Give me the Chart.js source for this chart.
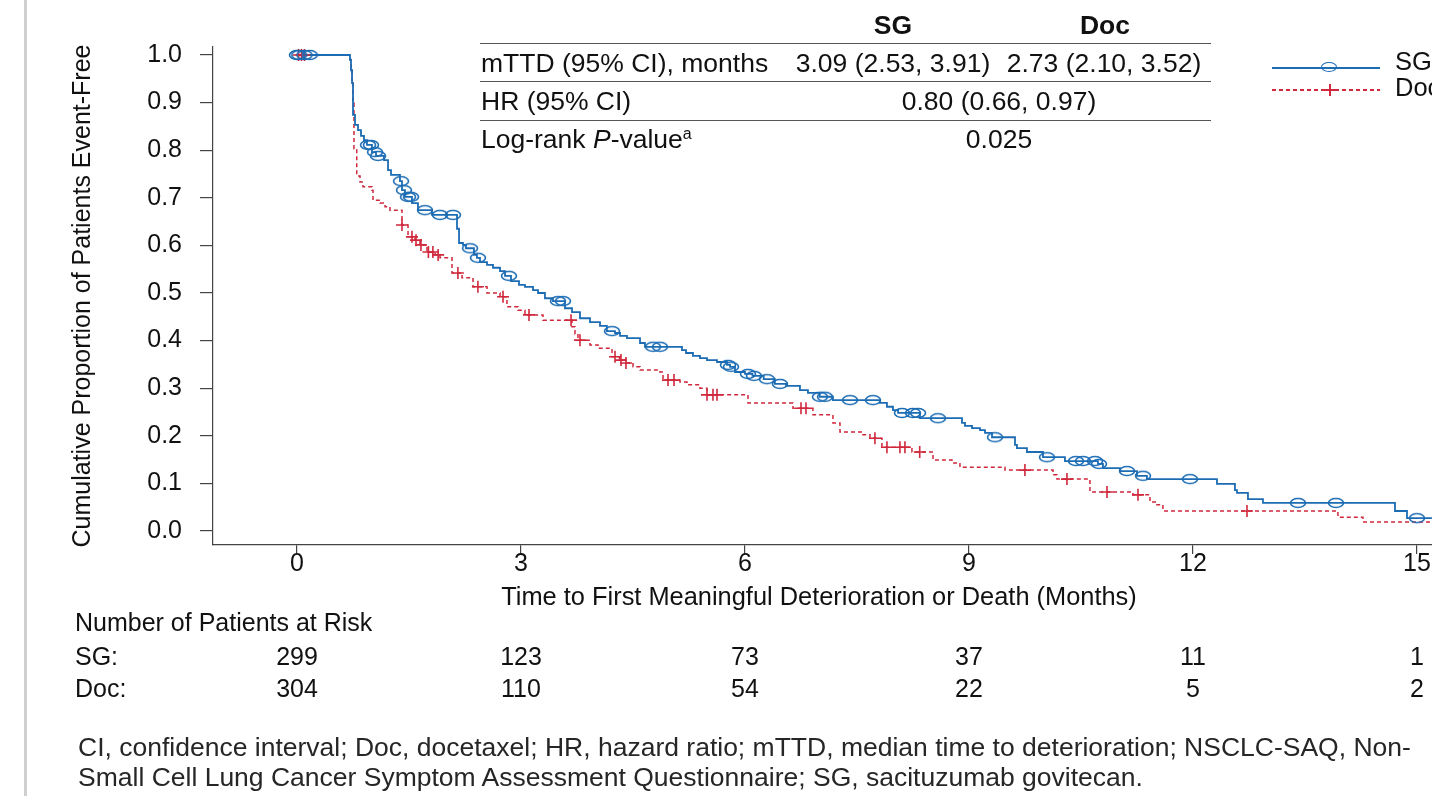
<!DOCTYPE html>
<html>
<head>
<meta charset="utf-8">
<title>Time to First Meaningful Deterioration</title>
<script src="https://cdn.jsdelivr.net/npm/chart.js@4.4.1/dist/chart.umd.min.js"></script>
<style>
  body { margin: 0; width: 1432px; height: 796px; overflow: hidden; background: #fff;
         font-family: 'Liberation Sans', Arial, sans-serif; color: #111; position: relative; }
  #wrap { position: absolute; left: 0; top: 0; width: 1521px; height: 796px; }
  .edge { position: absolute; left: 24px; top: 0; width: 3px; height: 796px; background: #cfcfcf; }
  .t { position: absolute; font-size: 26.5px; line-height: 30px; white-space: nowrap; }
  .c { transform: translateX(-50%); }
  .b { font-weight: bold; }
  .rule { position: absolute; left: 480px; width: 731px; height: 0; border-top: 1.5px solid #555; }
  .note { position: absolute; left: 78px; top: 732px; font-size: 26.5px; line-height: 30px; color: #262626; white-space: nowrap; }
  .lg-line { position: absolute; left: 1272px; width: 108px; height: 0; }
</style>
</head>
<body>
<div id="wrap"><canvas id="kmChart" width="1521" height="796"></canvas></div>
<div class="edge"></div>

<!-- summary table -->
<div class="t b c" style="left:893px; top:10px;">SG</div>
<div class="t b c" style="left:1105px; top:10px;">Doc</div>
<div class="rule" style="top:43px;"></div>
<div class="t" style="left:481px; top:48px;">mTTD (95% CI), months</div>
<div class="t c" style="left:893px; top:48px;">3.09 (2.53, 3.91)</div>
<div class="t c" style="left:1104px; top:48px;">2.73 (2.10, 3.52)</div>
<div class="rule" style="top:81px;"></div>
<div class="t" style="left:481px; top:86px;">HR (95% CI)</div>
<div class="t c" style="left:999px; top:86px;">0.80 (0.66, 0.97)</div>
<div class="rule" style="top:120px;"></div>
<div class="t" style="left:481px; top:124px;">Log-rank <i>P</i>-value<span style="font-size:16px; position:relative; top:-9px;">a</span></div>
<div class="t c" style="left:999px; top:124px;">0.025</div>

<!-- legend -->
<div class="lg-line" style="top:67px; border-top:2px solid #1c6cb4;"></div>
<div style="position:absolute; left:1321px; top:62px; width:14px; height:8px; border:1.7px solid #1c6cb4; border-radius:50%;"></div>
<div class="t" style="left:1395px; top:46px; font-size:25.5px;">SG</div>
<div class="lg-line" style="top:89px; height:1.6px; background:repeating-linear-gradient(to right,#d0283c 0 4px,transparent 4px 7px);"></div>
<div style="position:absolute; left:1324px; top:89px; width:12px; height:1.6px; background:#d0283c;"></div>
<div style="position:absolute; left:1329px; top:84px; width:1.6px; height:12px; background:#d0283c;"></div>
<div class="t" style="left:1395px; top:72px; font-size:25.5px;">Doc</div>

<div class="note">CI, confidence interval; Doc, docetaxel; HR, hazard ratio; mTTD, median time to deterioration; NSCLC-SAQ, Non-<br>Small Cell Lung Cancer Symptom Assessment Questionnaire; SG, sacituzumab govitecan.</div>

<script>
// Kaplan-Meier step points (months, proportion event-free)
const sgTimes = [0, 0.71, 0.723, 0.737, 0.75, 0.777, 0.817, 0.857, 0.897, 0.937, 1.004, 1.058, 1.165, 1.219, 1.259,
    1.379, 1.406, 1.446, 1.54, 1.62, 1.808, 2.143, 2.17, 2.223, 2.263, 2.37, 2.41, 2.451, 2.545, 2.625, 2.719,
    2.786, 2.866, 2.973, 3.053, 3.161, 3.228, 3.321, 3.428, 3.589, 3.683, 3.79, 3.924, 4.058, 4.15, 4.259,
    4.326, 4.419, 4.594, 4.66, 5.156, 5.21, 5.303, 5.397, 5.491, 5.625, 5.759, 5.8, 5.866, 6.0, 6.1, 6.25,
    6.4, 6.55, 6.736, 6.843, 7.0, 7.178, 7.808, 7.901, 7.982, 8.05, 8.343, 8.906, 8.946, 9.04, 9.147, 9.214,
    9.308, 9.616, 9.642, 9.776, 9.991, 10.285, 10.727, 10.794, 11.022, 11.25, 11.383, 12.321, 12.562, 12.589,
    12.736, 12.937, 14.705, 14.866, 15.2];
const sgSurv = [1.0, 0.99, 0.968, 0.941, 0.874, 0.853, 0.842, 0.83, 0.821, 0.811, 0.796, 0.788, 0.779, 0.758, 0.748,
    0.735, 0.716, 0.702, 0.689, 0.674, 0.664, 0.635, 0.605, 0.601, 0.594, 0.58, 0.574, 0.565, 0.559, 0.553, 0.546,
    0.536, 0.525, 0.517, 0.513, 0.506, 0.5, 0.489, 0.483, 0.468, 0.46, 0.447, 0.439, 0.431, 0.42, 0.416,
    0.41, 0.405, 0.395, 0.387, 0.38, 0.374, 0.368, 0.363, 0.359, 0.355, 0.349, 0.345, 0.334, 0.33, 0.326, 0.319,
    0.309, 0.305, 0.296, 0.29, 0.282, 0.275, 0.269, 0.261, 0.254, 0.248, 0.237, 0.227, 0.221, 0.216, 0.212, 0.206,
    0.197, 0.181, 0.174, 0.166, 0.155, 0.147, 0.141, 0.132, 0.126, 0.116, 0.109, 0.099, 0.086, 0.08,
    0.067, 0.059, 0.042, 0.027, 0.027];

const docTimes = [0, 0.71, 0.723, 0.737, 0.75, 0.763, 0.8, 0.844, 0.884, 1.004, 1.018, 1.112, 1.179, 1.245, 1.406,
    1.487, 1.58, 1.647, 1.741, 1.85, 1.915, 2.076, 2.21, 2.357, 2.545, 2.719, 2.812, 2.96, 3.053, 3.295, 3.683,
    3.723, 3.763, 3.924, 4.031, 4.219, 4.32, 4.4, 4.5, 4.594, 4.861, 4.902, 5.129, 5.223, 5.397, 5.491, 6.04,
    6.643, 6.91, 7.178, 7.272, 7.58, 7.674, 7.834, 8.236, 8.518, 8.772, 8.879, 9.482, 10.125, 10.178, 10.62,
    11.196, 11.424, 11.517, 11.597, 13.941, 14.276, 15.2];
const docSurv = [1.0, 0.99, 0.968, 0.941, 0.899, 0.803, 0.746, 0.733, 0.723, 0.716, 0.695, 0.689, 0.681, 0.674, 0.643,
    0.618, 0.611, 0.601, 0.586, 0.58, 0.574, 0.542, 0.532, 0.513, 0.5, 0.492, 0.471, 0.464, 0.454, 0.443, 0.429,
    0.414, 0.401, 0.391, 0.384, 0.366, 0.359, 0.353, 0.345, 0.338, 0.334, 0.317, 0.313, 0.307, 0.3, 0.286, 0.269,
    0.258, 0.244, 0.227, 0.208, 0.202, 0.195, 0.176, 0.166, 0.149, 0.143, 0.134, 0.128, 0.118, 0.109, 0.082,
    0.076, 0.061, 0.055, 0.042, 0.029, 0.019, 0.019];

// censored observations (months)
const sgCensor = [0, 0.03, 0.1, 0.17, 0.951, 0.991, 1.045, 1.085, 1.393, 1.433, 1.487, 1.527, 1.714, 1.915, 2.089,
    2.317, 2.424, 2.839, 3.495, 3.562, 4.219, 4.768, 4.861, 5.772, 5.812, 6.04, 6.12, 6.294, 6.468, 7.004, 7.071,
    7.406, 7.714, 8.102, 8.25, 8.317, 8.584, 9.348, 10.044, 10.433, 10.526, 10.687, 10.741, 11.116, 11.33,
    11.959, 13.406, 13.915, 15.0];
const docCensor = [0.02, 0.06, 0.1, 1.406, 1.54, 1.594, 1.66, 1.76, 1.82, 1.89, 2.155, 2.423, 2.759, 3.107, 3.67,
    3.79, 4.259, 4.339, 4.406, 4.969, 5.049, 5.491, 5.571, 5.625, 6.750, 6.817, 7.740, 7.901, 8.075, 8.142,
    8.34, 9.749, 10.312, 10.848, 11.263, 12.723];

const xTicks = [0, 3, 6, 9, 12, 15];
const yTicks = [0, 0.1, 0.2, 0.3, 0.4, 0.5, 0.6, 0.7, 0.8, 0.9, 1.0];
const atRiskSG = [299, 123, 73, 37, 11, 1];
const atRiskDoc = [304, 110, 54, 22, 5, 2];

const SG_BLUE = '#1c6cb4';
const DOC_RED = '#d0283c';
const FONT = "'Liberation Sans', Arial, sans-serif";

// value of a step curve at time t
function stepValue(times, surv, t) {
    let v = surv[0];
    for (let i = 0; i < times.length; i++) {
        if (times[i] <= t) v = surv[i];
    }
    return v;
}

function ellipseMarker(color) {
    const c = document.createElement('canvas');
    c.width = 20;
    c.height = 14;
    const g = c.getContext('2d');
    g.strokeStyle = color;
    g.lineWidth = 1.6;
    g.beginPath();
    g.ellipse(10, 7, 7.5, 4.5, 0, 0, Math.PI * 2);
    g.stroke();
    return c;
}

// x-axis title and number-at-risk rows under the plot
const belowAxisPlugin = {
    id: 'belowAxis',
    afterDraw(chart) {
        const { ctx } = chart;
        const x = chart.scales.x;
        ctx.save();
        ctx.fillStyle = '#111';
        ctx.textBaseline = 'middle';
        ctx.font = '25.4px ' + FONT;
        ctx.textAlign = 'center';
        ctx.fillText('Time to First Meaningful Deterioration or Death (Months)', 819, 598);
        ctx.font = '25px ' + FONT;
        ctx.textAlign = 'left';
        ctx.fillText('Number of Patients at Risk', 75, 624);
        ctx.fillText('SG:', 75, 658);
        ctx.fillText('Doc:', 75, 690);
        ctx.textAlign = 'center';
        xTicks.forEach((t, i) => {
            const px = x.getPixelForValue(t);
            ctx.fillText(String(atRiskSG[i]), px, 658);
            ctx.fillText(String(atRiskDoc[i]), px, 690);
        });
        ctx.restore();
    }
};

function initChart() {
    const ctx = document.getElementById('kmChart').getContext('2d');

    new Chart(ctx, {
        type: 'line',
        data: {
            datasets: [
                {
                    label: 'SG censored',
                    data: sgCensor.map(t => ({ x: t, y: stepValue(sgTimes, sgSurv, t) })),
                    showLine: false,
                    pointStyle: ellipseMarker(SG_BLUE),
                    pointRadius: 7
                },
                {
                    label: 'Doc censored',
                    data: docCensor.map(t => ({ x: t, y: stepValue(docTimes, docSurv, t) })),
                    showLine: false,
                    pointStyle: 'cross',
                    pointRadius: 6,
                    pointBorderColor: DOC_RED,
                    pointBorderWidth: 1.6
                },
                {
                    label: 'SG',
                    data: sgTimes.map((t, i) => ({ x: t, y: sgSurv[i] })),
                    stepped: true,
                    borderColor: SG_BLUE,
                    borderWidth: 1.8,
                    pointRadius: 0
                },
                {
                    label: 'Doc',
                    data: docTimes.map((t, i) => ({ x: t, y: docSurv[i] })),
                    stepped: true,
                    borderColor: DOC_RED,
                    borderWidth: 1.5,
                    borderDash: [4, 3],
                    pointRadius: 0
                }
            ]
        },
        options: {
            responsive: false,
            animation: false,
            layout: {
                padding: { top: 47, left: 64, right: 20, bottom: 179 }
            },
            plugins: {
                legend: { display: false },
                tooltip: { enabled: false }
            },
            scales: {
                x: {
                    type: 'linear',
                    min: -1.125,
                    max: 16.125,
                    afterBuildTicks: scale => { scale.ticks = xTicks.map(v => ({ value: v })); },
                    afterFit: scale => { scale.height = 72; },
                    border: { color: '#444', width: 1.2 },
                    grid: { drawOnChartArea: false, tickLength: 9, color: '#444', lineWidth: 1.2 },
                    ticks: {
                        color: '#111',
                        padding: -5,
                        maxRotation: 0,
                        font: { family: FONT, size: 25 }
                    }
                },
                y: {
                    min: -0.0294,
                    max: 1.0168,
                    afterBuildTicks: scale => { scale.ticks = yTicks.map(v => ({ value: v })); },
                    afterFit: scale => { scale.width = 149; },
                    border: { color: '#444', width: 1.2 },
                    grid: { drawOnChartArea: false, tickLength: 13, color: '#444', lineWidth: 1.2 },
                    ticks: {
                        color: '#111',
                        padding: 18,
                        font: { family: FONT, size: 25 },
                        callback: v => v.toFixed(1)
                    },
                    title: {
                        display: true,
                        text: 'Cumulative Proportion of Patients Event-Free',
                        color: '#111',
                        padding: { top: 4, bottom: 4 },
                        font: { family: FONT, size: 25 }
                    }
                }
            }
        },
        plugins: [belowAxisPlugin]
    });
}

document.addEventListener('DOMContentLoaded', initChart);
</script>
</body>
</html>
